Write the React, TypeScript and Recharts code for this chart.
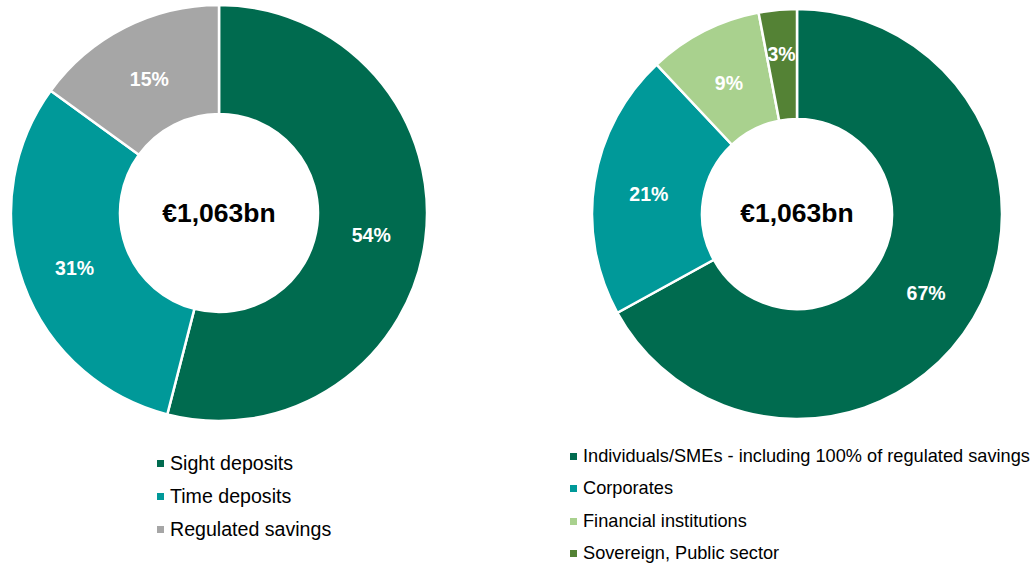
import React from 'react';
import {Cell, Pie, PieChart} from 'recharts';

const DEPOSIT_TYPES = ['Sight deposits', 'Time deposits', 'Regulated savings'];
const DEPOSIT_SHARES = [54, 31, 15];
const DEPOSIT_COLORS = ['#006B4F', '#009999', '#A6A6A6'];

const CLIENT_TYPES = [
  'Individuals/SMEs - including 100% of regulated savings',
  'Corporates',
  'Financial institutions',
  'Sovereign, Public sector',
];
const CLIENT_SHARES = [67, 21, 9, 3];
const CLIENT_COLORS = ['#006B4F', '#009999', '#A9D18E', '#548235'];

const TOTAL_LABEL = '€1,063bn';

const FONT = 'Arial, "Liberation Sans", sans-serif';
const RADIAN = Math.PI / 180;

const depositData = DEPOSIT_TYPES.map((name, i) => ({name, value: DEPOSIT_SHARES[i]}));
const clientData = CLIENT_TYPES.map((name, i) => ({name, value: CLIENT_SHARES[i]}));

const renderLabel = (props: any) => {
  const {cx, cy, midAngle, innerRadius, outerRadius, value} = props;
  // the tiny slice label sits a bit further out, like the original
  const r = (innerRadius + outerRadius) / 2 + (value < 5 ? 14 : 0);
  const x = cx + r * Math.cos(-midAngle * RADIAN);
  const y = cy + r * Math.sin(-midAngle * RADIAN) + 3;
  return (
    <text x={x} y={y} fill="#fff" textAnchor="middle" dominantBaseline="central"
          style={{fontFamily: FONT, fontSize: 19.5, fontWeight: 'bold'}}>
      {`${value}%`}
    </text>
  );
};

const Legend = ({items, colors, left, top, gap, fontSize}: {
  items: string[]; colors: string[]; left: number; top: number; gap: number; fontSize: number;
}) => (
  <div style={{position: 'absolute', left, top, fontFamily: FONT, fontSize, color: '#000'}}>
    {items.map((name, i) => (
      <div key={name} style={{height: gap, display: 'flex', alignItems: 'center', whiteSpace: 'nowrap'}}>
        <span style={{display: 'inline-block', width: 7, height: 7, background: colors[i], marginRight: 6}} />
        {name}
      </div>
    ))}
  </div>
);

export default function App() {
  return (
    <div style={{position: 'absolute', left: 0, top: 0, width: 1035, height: 567, background: '#fff'}}>
      <PieChart width={1035} height={567} margin={{top: 0, right: 0, bottom: 0, left: 0}}
                style={{position: 'absolute', left: 0, top: 0}}>
        <Pie data={depositData} dataKey="value" cx={219} cy={213} innerRadius={99} outerRadius={208}
             startAngle={90} endAngle={-270} stroke="#fff" strokeWidth={2.5}
             label={renderLabel} labelLine={false} isAnimationActive={false}>
          {depositData.map((d, i) => <Cell key={d.name} fill={DEPOSIT_COLORS[i]} />)}
        </Pie>
        <Pie data={clientData} dataKey="value" cx={797} cy={214} innerRadius={95} outerRadius={205}
             startAngle={90} endAngle={-270} stroke="#fff" strokeWidth={2.5}
             label={renderLabel} labelLine={false} isAnimationActive={false}>
          {clientData.map((d, i) => <Cell key={d.name} fill={CLIENT_COLORS[i]} />)}
        </Pie>
        <text x={219} y={213} textAnchor="middle" dominantBaseline="central"
              style={{fontFamily: FONT, fontSize: 26.5, fontWeight: 'bold'}} fill="#000">
          {TOTAL_LABEL}
        </text>
        <text x={797} y={213} textAnchor="middle" dominantBaseline="central"
              style={{fontFamily: FONT, fontSize: 26.5, fontWeight: 'bold'}} fill="#000">
          {TOTAL_LABEL}
        </text>
      </PieChart>
      <Legend items={DEPOSIT_TYPES} colors={DEPOSIT_COLORS} left={157} top={447} gap={33} fontSize={19.6} />
      <Legend items={CLIENT_TYPES} colors={CLIENT_COLORS} left={570} top={440} gap={32.5} fontSize={18.2} />
    </div>
  );
}
